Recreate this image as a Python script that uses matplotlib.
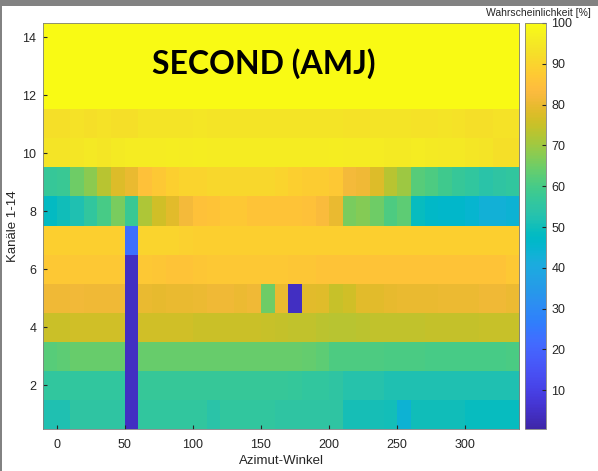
import numpy as np
import matplotlib.pyplot as plt
from matplotlib.colors import LinearSegmentedColormap
from matplotlib.patches import Rectangle

# Azimut-Winkel (column edges) and Kanäle 1-14
azimut_edges = [-10, 340]
kanaele = np.arange(1, 15)
cbar_ticks = [10, 20, 30, 40, 50, 60, 70, 80, 90, 100]

# Wahrscheinlichkeit [%] per Kanal, 35 Azimut-Spalten
k01 = [52, 52, 55, 55, 55, 55, 4, 56, 56, 56, 56, 56, 54, 56, 56, 56, 56, 55, 55, 55, 55, 55, 51, 51, 51, 50.5, 44, 50, 50, 50, 50, 49, 49, 49, 49]
k02 = [56, 56, 56, 56, 56, 56, 4, 57, 57, 57, 57, 57, 57, 57, 57, 57, 57, 57, 56.5, 56, 56, 55, 53, 53, 53, 52, 52, 52, 52, 52, 52, 52, 52, 52, 52]
k03 = [62, 63, 64, 64, 64, 64, 4, 64, 64, 64, 64, 64, 64, 64, 64, 64, 64, 64, 64, 63.5, 63, 61, 61, 61, 61, 60.5, 60.5, 60.5, 60, 60, 60, 60, 60, 60, 60.5]
k04 = [75.5, 75.5, 76, 76, 76, 76, 4, 76, 76, 76, 76, 75.5, 75.5, 75.5, 75.5, 75.5, 75, 74.5, 74, 74, 73.5, 73, 73, 73.5, 74, 74, 74, 74, 74.5, 74.5, 74.5, 74.5, 75, 75, 75]
k05 = [81, 81, 81.5, 81, 81, 81, 4, 80, 79.5, 80, 80, 80.5, 81, 81, 80.5, 81, 65, 80, 4, 79, 78.5, 75, 76, 79, 79, 79.5, 80, 80, 80, 80.5, 80.5, 80.5, 81, 81, 80.5]
k06 = [87, 87, 87, 87, 87, 87, 4, 87, 86.5, 86, 86, 86.5, 87, 87, 87, 87, 87, 87, 86.5, 86.5, 86, 86, 86, 86, 86, 86, 86, 86, 86, 86, 86, 86, 86, 86, 87]
k07 = [89, 89, 89, 89, 89, 89, 23, 90, 90, 90, 89.5, 89, 89, 89, 89, 89, 89, 89, 89, 89, 89, 89, 89, 89, 89, 89, 89, 89, 89, 89, 89, 89, 89, 89, 89]
k08 = [48, 50, 52, 56, 60, 66, 58, 72, 76, 79, 82, 85, 86, 87, 87, 86, 86, 86, 86, 85, 83, 80, 66, 67, 65, 61, 63, 49, 47, 46, 46, 45, 43, 43, 44]
k09 = [57, 58, 65, 68, 73, 78, 80, 85, 87, 89, 90, 90, 91, 91, 91, 91, 91, 90, 89, 88, 88, 87, 82, 81, 78, 73, 70, 62, 61, 59, 57, 56, 54, 55, 56]
k10 = [94, 94, 94.5, 95, 94.5, 95.5, 96, 96, 96, 96.5, 96, 96.5, 96, 96, 96, 96, 96, 96, 96, 96, 96, 96.5, 96, 96, 96, 95.5, 95.5, 96, 95.5, 95, 95, 94.5, 94, 93, 93]
k11 = [93, 93, 93.5, 93, 93.5, 93, 93, 94, 94, 94, 94, 94.5, 94, 94, 94, 94, 94, 94, 94, 94, 94, 94, 93.5, 93.5, 94, 94, 94, 93.5, 93.5, 94, 93.5, 93, 93, 93.5, 93.5]
k12 = [100] * 35
k13 = [100] * 35
k14 = [100] * 35

data = np.array([k01, k02, k03, k04, k05, k06, k07, k08, k09, k10, k11, k12, k13, k14])

# MATLAB parula, 64 colours (interpolated to 256)
parula_pts = [
    (0.2422, 0.1504, 0.6603), (0.2504, 0.1650, 0.7076), (0.2578, 0.1818, 0.7511), (0.2647, 0.1978, 0.7952),
    (0.2706, 0.2147, 0.8364), (0.2751, 0.2342, 0.8710), (0.2783, 0.2559, 0.8991), (0.2803, 0.2782, 0.9221),
    (0.2813, 0.3006, 0.9414), (0.2810, 0.3228, 0.9579), (0.2795, 0.3447, 0.9717), (0.2760, 0.3667, 0.9829),
    (0.2699, 0.3892, 0.9906), (0.2602, 0.4123, 0.9952), (0.2440, 0.4358, 0.9988), (0.2206, 0.4603, 0.9973),
    (0.1963, 0.4847, 0.9892), (0.1834, 0.5074, 0.9798), (0.1786, 0.5289, 0.9682), (0.1764, 0.5499, 0.9520),
    (0.1687, 0.5703, 0.9359), (0.1540, 0.5902, 0.9218), (0.1460, 0.6091, 0.9079), (0.1380, 0.6276, 0.8973),
    (0.1248, 0.6459, 0.8883), (0.1113, 0.6635, 0.8763), (0.0952, 0.6798, 0.8598), (0.0689, 0.6948, 0.8394),
    (0.0297, 0.7082, 0.8163), (0.0036, 0.7203, 0.7917), (0.0067, 0.7312, 0.7660), (0.0433, 0.7411, 0.7394),
    (0.0964, 0.7500, 0.7120), (0.1408, 0.7584, 0.6842), (0.1717, 0.7670, 0.6554), (0.1938, 0.7758, 0.6251),
    (0.2161, 0.7843, 0.5923), (0.2470, 0.7918, 0.5567), (0.2906, 0.7973, 0.5188), (0.3406, 0.8008, 0.4789),
    (0.3909, 0.8029, 0.4354), (0.4456, 0.8024, 0.3909), (0.5044, 0.7993, 0.3480), (0.5616, 0.7942, 0.3045),
    (0.6174, 0.7876, 0.2612), (0.6720, 0.7793, 0.2227), (0.7242, 0.7698, 0.1910), (0.7738, 0.7598, 0.1646),
    (0.8203, 0.7498, 0.1535), (0.8634, 0.7406, 0.1596), (0.9035, 0.7330, 0.1774), (0.9393, 0.7288, 0.2100),
    (0.9728, 0.7298, 0.2394), (0.9956, 0.7434, 0.2371), (0.9970, 0.7659, 0.2199), (0.9952, 0.7893, 0.2028),
    (0.9892, 0.8136, 0.1885), (0.9786, 0.8386, 0.1766), (0.9676, 0.8639, 0.1643), (0.9610, 0.8890, 0.1537),
    (0.9597, 0.9135, 0.1423), (0.9628, 0.9373, 0.1265), (0.9691, 0.9606, 0.1064), (0.9769, 0.9839, 0.0805),
]
parula = LinearSegmentedColormap.from_list("parula", parula_pts, N=256)

plt.rcParams["font.family"] = ["Liberation Sans", "DejaVu Sans"]
txt_col = "#262626"

fig = plt.figure(figsize=(5.98, 4.71), dpi=100, facecolor="#828282")
# white screenshot area inside the grey frame
fig.patches.append(Rectangle((2 / 598, 0), 1, 465 / 471, transform=fig.transFigure,
                             facecolor="white", edgecolor="none", zorder=-1))

ax = fig.add_axes([0.0724, 0.0892, 0.796, 0.862])
im = ax.imshow(data, cmap=parula, vmin=0.5, vmax=100, origin="lower", aspect="auto",
               interpolation="nearest",
               extent=[azimut_edges[0], azimut_edges[1], kanaele[0] - 0.5, kanaele[-1] + 0.5])

ax.set_xticks([0, 50, 100, 150, 200, 250, 300])
ax.set_yticks([2, 4, 6, 8, 10, 12, 14])
ax.tick_params(direction="in", length=3, labelsize=9, colors=txt_col, pad=5)
ax.tick_params(axis="x", pad=7)
for s in ax.spines.values():
    s.set_color("#7f7f7f")
    s.set_linewidth(0.6)

ax.set_xlabel("Azimut-Winkel", fontsize=9.5, color=txt_col)
ax.set_ylabel("Kanäle 1-14", fontsize=9.5, color=txt_col)
ax.xaxis.set_label_coords(0.5, -0.064)
ax.yaxis.set_label_coords(-0.052, 0.5)

ax.text(0.4636, 0.899, "SECOND (AMJ)", transform=ax.transAxes, ha="center", va="center",
        fontsize=23, fontweight="bold", family=["Lato", "DejaVu Sans"], color="black")

cax = fig.add_axes([525 / 598, 0.0892, 21 / 598, 0.862])
cb = fig.colorbar(im, cax=cax, ticks=cbar_ticks)
cb.outline.set_edgecolor("#7f7f7f")
cb.outline.set_linewidth(0.6)
cax.tick_params(direction="in", length=3, labelsize=9, colors=txt_col, pad=4)
fig.text(591 / 598, 1 - 13 / 471, "Wahrscheinlichkeit [%]", ha="right", va="center",
         fontsize=7.5, color=txt_col)

fig.savefig("out.png", dpi=100, facecolor=fig.get_facecolor())
